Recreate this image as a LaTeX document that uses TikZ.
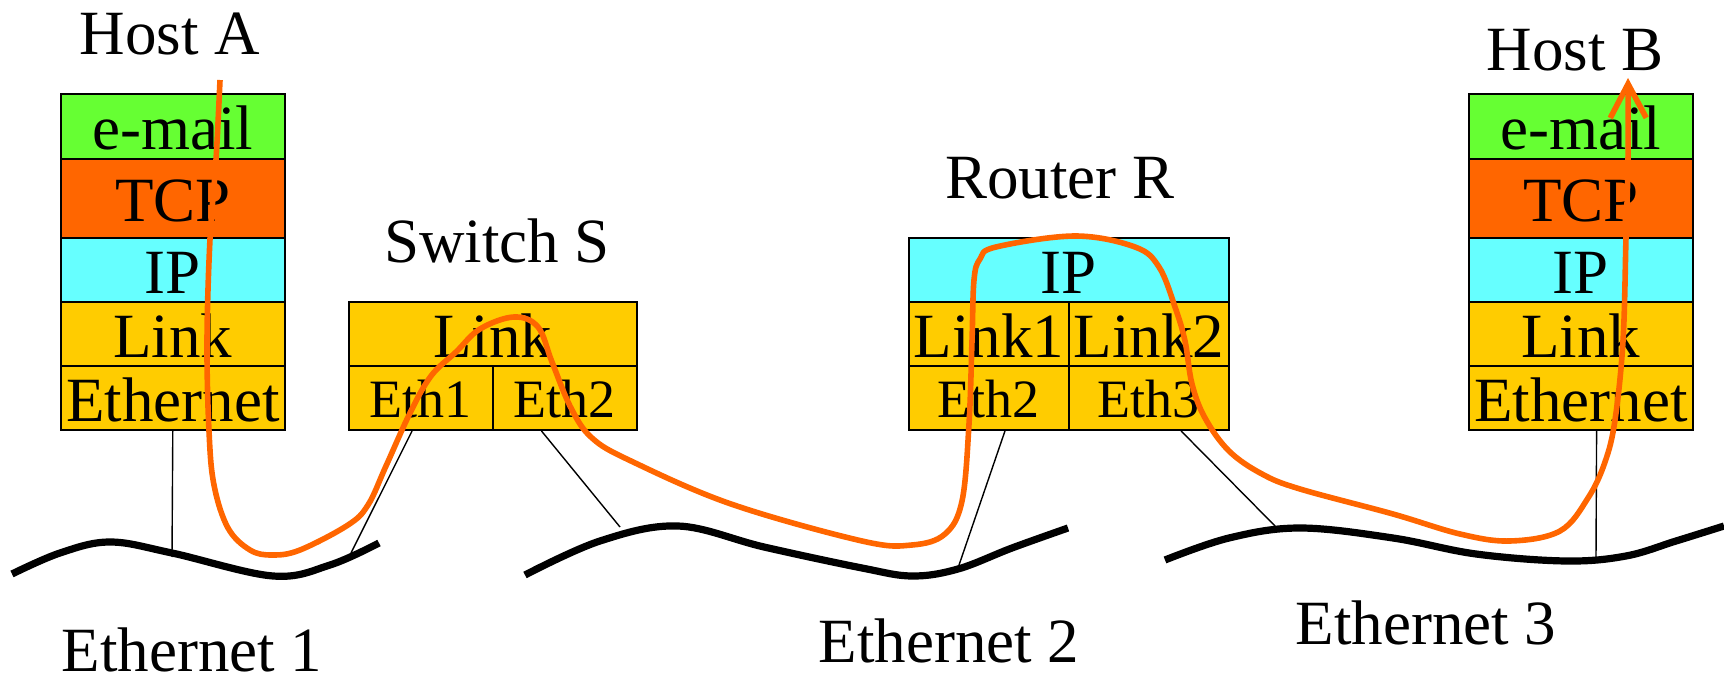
\documentclass[tikz,border=0pt]{standalone}
\usepackage{fontspec}
\setmainfont{Liberation Serif}
\usetikzlibrary{arrows.meta,calc}

\definecolor{mailgreen}{HTML}{66FF33}
\definecolor{tcporange}{HTML}{FF6600}
\definecolor{ipcyan}{HTML}{66FFFF}
\definecolor{linkyellow}{HTML}{FFCC00}
\definecolor{pathorange}{HTML}{FF6600}

\newcommand\layerfont{\fontsize{31.5pt}{36pt}\selectfont}
\newcommand\portfont{\fontsize{27pt}{31pt}\selectfont}

\begin{document}
\begin{tikzpicture}[x=0.5pt,y=-0.5pt,
  cell/.style={draw=black, line width=0.8pt, inner sep=0pt, anchor=south west,
               text height=27.5pt, text depth=4.5pt, font=\layerfont, minimum height=32pt},
  port/.style={text height=25pt, text depth=6pt, font=\portfont},
  title/.style={anchor=base, inner sep=0pt, font=\layerfont},
  bus/.style={line width=3.6pt},
  tap/.style={line width=0.7pt},
  flow/.style={draw=pathorange, line width=2.8pt}]

\useasboundingbox (0,0) rectangle (1724,683);

% ---------- Host A ----------
\node[title] (hostA) at (170,55) {Host A};
\node[cell, fill=mailgreen,  minimum width=112pt, minimum height=32.5pt] (aMail) at (60,160) {e-mail};
\node[cell, fill=tcporange,  minimum width=112pt, minimum height=39.5pt] (aTcp)  at (60,239) {TCP};
\node[cell, fill=ipcyan,     minimum width=112pt] (aIp)   at (60,303) {IP};
\node[cell, fill=linkyellow, minimum width=112pt] (aLink) at (60,367) {Link};
\node[cell, fill=linkyellow, minimum width=112pt] (aEth)  at (60,431) {Ethernet};

% ---------- Switch S ----------
\node[title] (switchS) at (497,263) {Switch S};
\node[cell, fill=linkyellow, minimum width=144pt] (sLink) at (348,367) {Link};
\node[cell, port, fill=linkyellow, minimum width=72pt] (sEth1) at (348,431) {Eth1};
\node[cell, port, fill=linkyellow, minimum width=72pt] (sEth2) at (492,431) {Eth2};

% ---------- Router R ----------
\node[title] (routerR) at (1060,199) {Router R};
\node[cell, fill=ipcyan,     minimum width=160pt] (rIp)    at (908,303)  {IP};
\node[cell, fill=linkyellow, minimum width=80pt]  (rLink1) at (908,367)  {Link1};
\node[cell, fill=linkyellow, minimum width=80pt]  (rLink2) at (1068,367) {Link2};
\node[cell, port, fill=linkyellow, minimum width=80pt] (rEth2) at (908,431)  {Eth2};
\node[cell, port, fill=linkyellow, minimum width=80pt] (rEth3) at (1068,431) {Eth3};

% ---------- Host B ----------
\node[title] (hostB) at (1575,71) {Host B};
\node[cell, fill=mailgreen,  minimum width=112pt, minimum height=32.5pt] (bMail) at (1468,160) {e-mail};
\node[cell, fill=tcporange,  minimum width=112pt, minimum height=39.5pt] (bTcp)  at (1468,239) {TCP};
\node[cell, fill=ipcyan,     minimum width=112pt] (bIp)   at (1468,303) {IP};
\node[cell, fill=linkyellow, minimum width=112pt] (bLink) at (1468,367) {Link};
\node[cell, fill=linkyellow, minimum width=112pt] (bEth)  at (1468,431) {Ethernet};

% ---------- Ethernet segments ----------
\coordinate (tapA)  at (172,557);
\coordinate (tapS1) at (351,553);
\coordinate (tapS2) at (620,527);
\coordinate (tapR2) at (958,568);
\coordinate (tapR3) at (1275,526);
\coordinate (tapB)  at (1596,557);

\draw[bus] plot[smooth, tension=0.6] coordinates
  {(12,574) (60,553) (110,542) (172,553) (273,576) (330,565) (379,543)};
\draw[bus] plot[smooth, tension=0.6] coordinates
  {(525,575) (600,541) (678,526) (764,547) (862,568) (912,576) (958,569) (1012,548) (1068,528)};
\draw[bus] plot[smooth, tension=0.6] coordinates
  {(1165,560) (1229,538) (1300,528) (1393,538) (1476,554) (1566,561) (1626,556) (1676,541) (1724,526)};

\node[title] (eth1) at (192,671) {Ethernet 1};
\node[title] (eth2) at (949,662) {Ethernet 2};
\node[title] (eth3) at (1426,645) {Ethernet 3};

% ---------- attachments to the segments ----------
\draw[tap] (aEth.south) -- (tapA);
\draw[tap] ($(sEth1.south west)!0.44!(sEth1.south east)$) -- (tapS1);
\draw[tap] ($(sEth2.south west)!0.34!(sEth2.south east)$) -- (tapS2);
\draw[tap] ($(rEth2.south west)!0.6!(rEth2.south east)$) -- (tapR2);
\draw[tap] ($(rEth3.south west)!0.7!(rEth3.south east)$) -- (tapR3);
\draw[tap] ($(bEth.south west)!0.57!(bEth.south east)$) -- (tapB);

% ---------- path of the message ----------
\coordinate (flowStart) at (220,80);
\coordinate (flowEnd)   at (1628,78);
\draw[flow, -{Straight Barb[length=17pt,width=18pt]}] plot[smooth, tension=0.6] coordinates
  {(flowStart) (216,160) (210,239) (207,341) (209,431) (214,485) (228,528) (250,550)
   (272,555) (300,550) (348,525) (368,505) (386,466) (410,413) (431,376) (456,352)
   (480,329) (514,317) (538,327) (552,362) (571,408) (592,438) (631,461) (731,504)
   (862,541) (912,545) (945,534) (962,501) (969,424) (972,341) (974,280) (980,259)
   (996,247) (1075,236) (1135,247) (1159,267) (1175,307) (1185,341) (1192,384)
   (1205,418) (1229,451) (1262,474) (1300,489) (1393,514) (1460,534) (1510,541)
   (1560,531) (1588,498) (1605,462) (1615,420) (1623,341) (1626,237) (1628,160)
   (flowEnd)};

\end{tikzpicture}
\end{document}
